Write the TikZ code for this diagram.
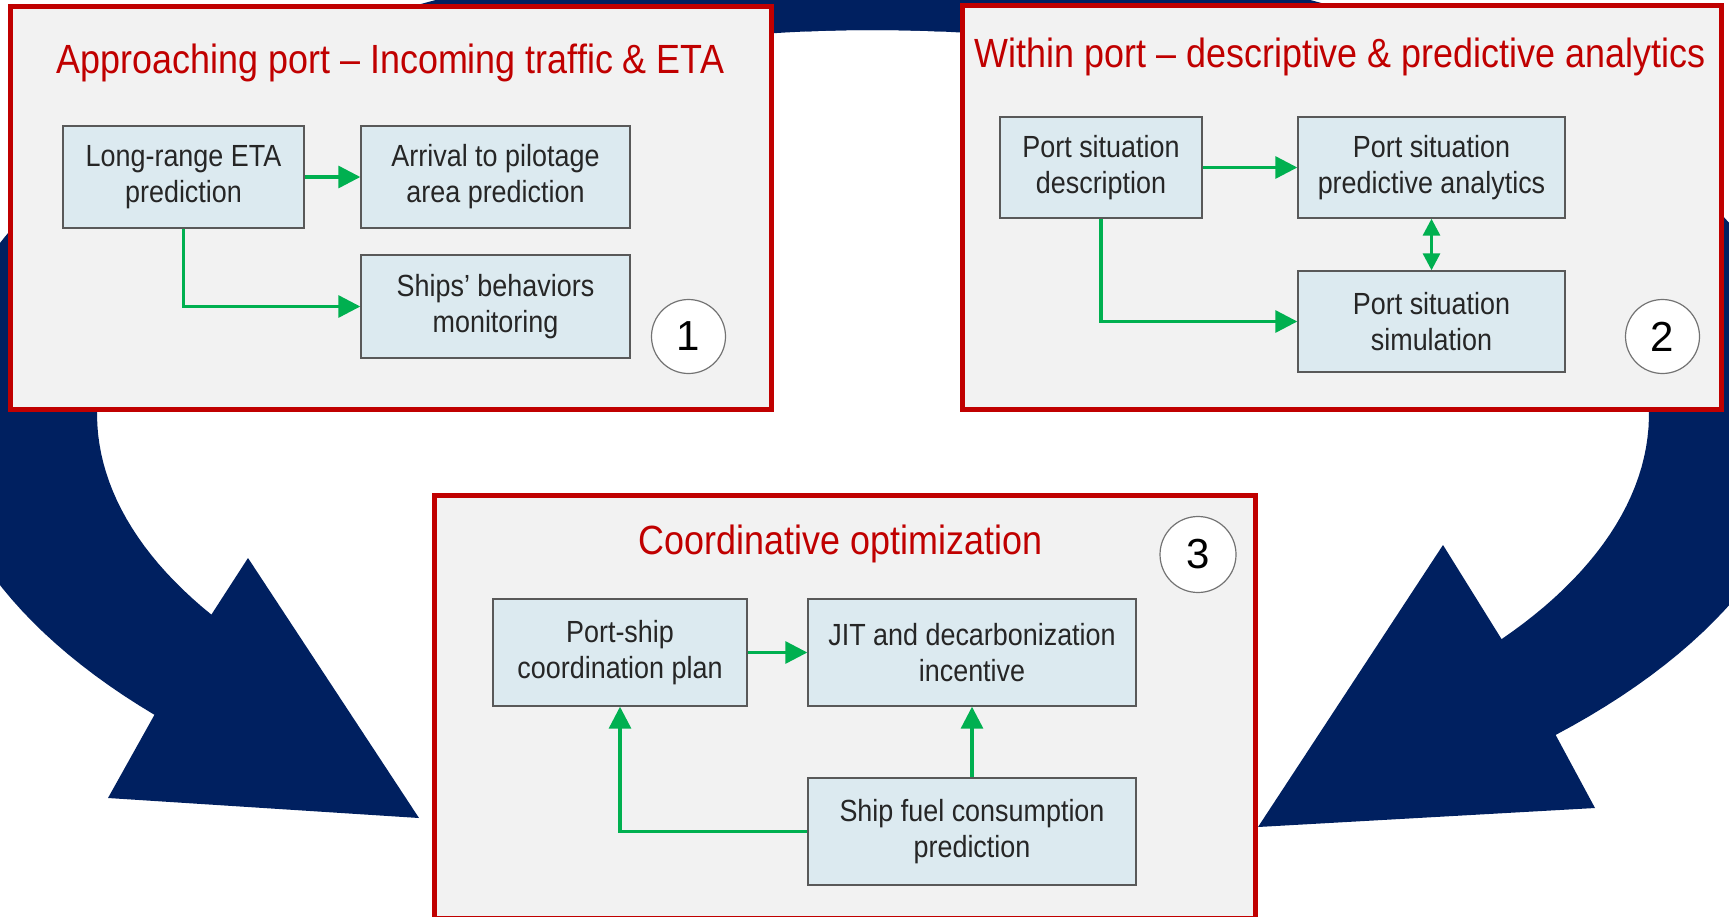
\documentclass[tikz,border=0pt]{standalone}
\usepackage{fontspec}
\setmainfont{Liberation Sans}[FakeStretch=0.88]
\newfontfamily\numfont{Liberation Sans}
\usetikzlibrary{arrows.meta}
\definecolor{navy}{HTML}{002060}
\definecolor{portred}{HTML}{C00000}
\definecolor{panelgray}{HTML}{F2F2F2}
\definecolor{boxblue}{HTML}{DCEAF0}
\definecolor{flowgreen}{HTML}{00B050}
\tikzset{panel/.style = {draw=portred, line width=2.5pt, fill=panelgray}}
\tikzset{ttl/.style = {text=portred, anchor=base, inner sep=0, font=\fontsize{20.4}{24}\selectfont}}
\tikzset{proc/.style = {draw=black!65, line width=0.7pt, fill=boxblue, text=black!85, align=center, inner sep=0, font=\fontsize{15.3}{18}\selectfont}}
\tikzset{flow/.style = {draw=flowgreen, line width=1.6pt, -{Triangle[length=11pt, width=11pt]}}}
\tikzset{both/.style = {draw=flowgreen, line width=1.6pt, {Triangle[length=8.5pt, width=8.5pt]}-{Triangle[length=8.5pt, width=8.5pt]}}}
\tikzset{num/.style = {circle, draw=black!55, line width=0.6pt, fill=white, minimum size=37pt, inner sep=0, font=\numfont\fontsize{21}{21}\selectfont}}

\begin{document}
\begin{tikzpicture}[x=0.5pt, y=-0.5pt]
	\clip (0,0) rectangle (1729,916);
	\fill[white] (0,0) rectangle (1729,916);
	\fill[navy] plot[domain=275:140, samples=90] ({873+938*cos(\x)}, {414+468*sin(\x)})
		-- (108,798) -- (419,818) -- (248,558)
		-- plot[domain=148.5:275, samples=90] ({873+776*cos(\x)}, {414+384*sin(\x)}) -- cycle;
	\fill[navy] plot[domain=265:403.3, samples=90] ({873+938*cos(\x)}, {414+468*sin(\x)})
		-- (1595,808) -- (1258,827) -- (1443,545)
		-- plot[domain=395.9:265, samples=90] ({873+776*cos(\x)}, {414+384*sin(\x)}) -- cycle;

	\draw[panel] (10.5,6) rectangle (771,409.5);
	\draw[panel] (962.5,5.5) rectangle (1721.5,409.5);
	\draw[panel] (434.5,495) rectangle (1255.5,918);

	\node[ttl] (t1) at (390.5,73) {Approaching port – Incoming traffic \& ETA};
	\node[ttl] (t2) at (1340,67) {Within port – descriptive \& predictive analytics};
	\node[ttl] (t3) at (840.5,554) {Coordinative optimization};

	\node[proc, minimum width=120.5pt, minimum height=51pt] (eta) at (183.5,177) {Long-range ETA\\prediction};
	\node[proc, minimum width=134.5pt, minimum height=51pt] (arrival) at (495.5,177) {Arrival to pilotage\\area prediction};
	\node[proc, minimum width=134.5pt, minimum height=51.5pt] (ships) at (495.5,306.5) {Ships’ behaviors\\monitoring};
	\node[proc, minimum width=101pt, minimum height=50.5pt] (desc) at (1101,167.5) {Port situation\\description};
	\node[proc, minimum width=133.5pt, minimum height=50.5pt] (pred) at (1431.5,167.5) {Port situation\\predictive analytics};
	\node[proc, minimum width=133.5pt, minimum height=50.5pt] (sim) at (1431.5,321.5) {Port situation\\simulation};
	\node[proc, minimum width=127pt, minimum height=53.5pt] (plan) at (620,652.5) {Port-ship\\coordination plan};
	\node[proc, minimum width=164pt, minimum height=53.5pt] (jit) at (972,652.5) {JIT and decarbonization\\incentive};
	\node[proc, minimum width=164pt, minimum height=53.5pt] (fuel) at (972,831.5) {Ship fuel consumption\\prediction};

	\draw[flow] (eta) -- (arrival);
	\draw[flow] (eta.south) |- (ships.west);
	\draw[flow] (desc) -- (pred);
	\draw[flow] (desc.south) |- (sim.west);
	\draw[both] (pred) -- (sim);
	\draw[flow] (plan) -- (jit);
	\draw[flow] (fuel) -- (jit);
	\draw[flow] (fuel.west) -| (plan.south);

	\node[num] (n1) at (688.5,336.5) {1};
	\node[num] (n2) at (1662.5,336.5) {2};
	\node[num, minimum size=38pt] (n3) at (1198,554.5) {3};
\end{tikzpicture}
\end{document}
